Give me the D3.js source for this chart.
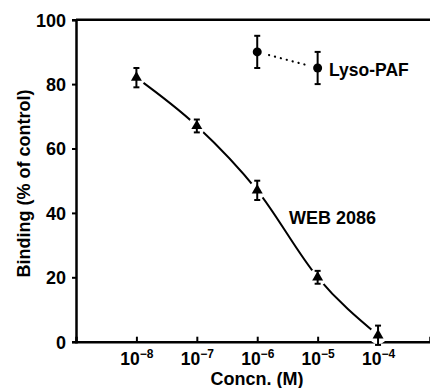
<!DOCTYPE html>
<html>
<head>
<meta charset="utf-8">
<script src="https://cdn.jsdelivr.net/npm/d3@7"></script>
<style>
  body { margin: 0; background: #fff; }
  svg { display: block; }
  svg text { font-family: "Liberation Sans", Arial, sans-serif; font-weight: bold; fill: #000; }
</style>
</head>
<body>
<div id="chart"></div>
<script>
// data
const webConc = [1e-8, 1e-7, 1e-6, 1e-5, 1e-4];
const webBinding = [82, 67, 47, 20, 2];
const webErr = [3, 2, 3, 2, 3];

const lysoConc = [1e-6, 1e-5];
const lysoBinding = [90, 85];
const lysoErr = [5, 5];

const yTicks = [0, 20, 40, 60, 80, 100];
const xTickExps = [-8, -7, -6, -5, -4];

const width = 430, height = 388;
const plotLeft = 76, plotTop = 19.7, plotBottom = 341.7;

let svg = d3.select("#chart").append("svg")
		.attr("width", width)
		.attr("height", height);

let x = d3.scaleLog()
		.domain([1e-9, Math.pow(10, -3.14)])
		.range([plotLeft, width]);
let y = d3.scaleLinear()
		.domain([0, 100])
		.range([plotBottom, plotTop]);

// frame top line
svg.append("line")
	.attr("x1", plotLeft).attr("x2", width)
	.attr("y1", plotTop).attr("y2", plotTop)
	.attr("stroke", "#000").attr("stroke-width", 2.5);

// y axis
let yAxis = svg.append("g")
		.attr("transform", "translate(" + plotLeft + ",0)")
		.call(d3.axisLeft(y).tickValues(yTicks).tickSize(4).tickPadding(6));
yAxis.select(".domain").attr("stroke-width", 2.5);
yAxis.selectAll(".tick line").attr("stroke-width", 2);
yAxis.selectAll(".tick text")
	.attr("font-size", 18)
	.attr("dy", "0.36em");

// x axis, ticks point inward
let xAxis = svg.append("g")
		.attr("transform", "translate(0," + plotBottom + ")")
		.call(d3.axisBottom(x)
			.tickValues(xTickExps.map(e => Math.pow(10, e)))
			.tickSize(-5)
			.tickFormat(() => ""));
xAxis.select(".domain").attr("stroke-width", 2.5);
xAxis.selectAll(".tick line").attr("stroke-width", 2);

let xl = xAxis.selectAll(".tick").data(xTickExps)
	.append("text")
		.attr("y", 23.5)
		.attr("text-anchor", "middle")
		.attr("font-size", 17.5);
xl.append("tspan").text("10");
xl.append("tspan")
	.attr("font-size", 12)
	.attr("dy", -7)
	.text(d => "\u2212" + Math.abs(d));

// axis titles
svg.append("text")
	.attr("transform", "translate(30," + 183.5 + ") rotate(-90)")
	.attr("text-anchor", "middle")
	.attr("font-size", 18)
	.text("Binding (% of control)");

svg.append("text")
	.attr("x", 257).attr("y", 385)
	.attr("text-anchor", "middle")
	.attr("font-size", 18)
	.text("Concn. (M)");

// WEB 2086 curve
let web = webConc.map((c, i) => ({c: c, v: webBinding[i], e: webErr[i]}));
let lyso = lysoConc.map((c, i) => ({c: c, v: lysoBinding[i], e: lysoErr[i]}));

let line = d3.line()
		.x(d => x(d.c))
		.y(d => y(d.v))
		.curve(d3.curveMonotoneX);

svg.append("path")
	.datum(web)
	.attr("d", line)
	.attr("fill", "none")
	.attr("stroke", "#000")
	.attr("stroke-width", 2);

svg.append("path")
	.datum(lyso)
	.attr("d", d3.line().x(d => x(d.c)).y(d => y(d.v)))
	.attr("fill", "none")
	.attr("stroke", "#000")
	.attr("stroke-width", 2.2)
	.attr("stroke-linecap", "round")
	.attr("stroke-dasharray", "0.1,6");

// white gaps round the markers
svg.selectAll(".gap")
	.data(web.concat(lyso))
	.enter()
	.append("circle")
		.attr("cx", d => x(d.c))
		.attr("cy", d => y(d.v))
		.attr("r", 9)
		.attr("fill", "#fff");

// error bars
let bars = svg.selectAll(".err")
	.data(web.concat(lyso))
	.enter()
	.append("g")
		.attr("stroke", "#000")
		.attr("stroke-width", 2);
bars.append("line")
	.attr("x1", d => x(d.c)).attr("x2", d => x(d.c))
	.attr("y1", d => y(d.v + d.e)).attr("y2", d => y(d.v - d.e));
bars.append("line")
	.attr("x1", d => x(d.c) - 3).attr("x2", d => x(d.c) + 3)
	.attr("y1", d => y(d.v + d.e)).attr("y2", d => y(d.v + d.e));
bars.append("line")
	.attr("x1", d => x(d.c) - 3).attr("x2", d => x(d.c) + 3)
	.attr("y1", d => y(d.v - d.e)).attr("y2", d => y(d.v - d.e));

// markers
let tri = d3.symbol().type(d3.symbolTriangle).size(52);
svg.selectAll(".tri")
	.data(web)
	.enter()
	.append("path")
		.attr("transform", d => "translate(" + x(d.c) + "," + y(d.v) + ")")
		.attr("d", tri)
		.attr("fill", "#000");

svg.selectAll(".dot")
	.data(lyso)
	.enter()
	.append("circle")
		.attr("cx", d => x(d.c))
		.attr("cy", d => y(d.v))
		.attr("r", 4.5)
		.attr("fill", "#000");

// labels
svg.append("text")
	.attr("x", 329).attr("y", 76)
	.attr("font-size", 17.5)
	.text("Lyso-PAF");

svg.append("text")
	.attr("x", 289).attr("y", 224)
	.attr("font-size", 18)
	.text("WEB 2086");
</script>
</body>
</html>
